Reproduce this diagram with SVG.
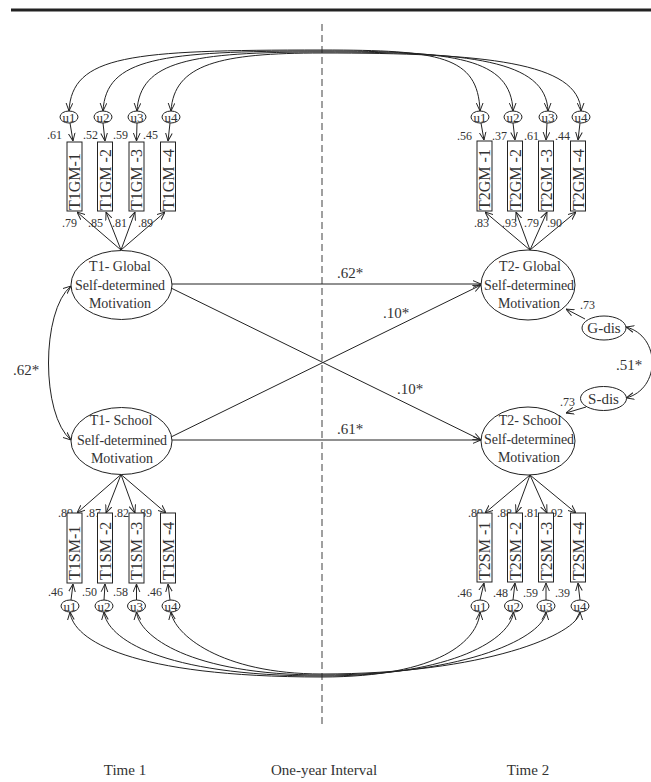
<svg xmlns="http://www.w3.org/2000/svg" width="651" height="782" viewBox="0 0 651 782">
<style>
text{font-family:"Liberation Serif","Times New Roman",serif;fill:#333}
.lat{font-size:14px;text-anchor:middle}
.num{font-size:12px}
.coef{font-size:15px}
.ul{font-size:13px;text-anchor:middle}
.bx{font-size:16px}
.ft{font-size:15px;text-anchor:middle}
.sh{fill:#fff;stroke:#222;stroke-width:1}
.cn path,.cn line{fill:none;stroke:#222;stroke-width:1}
</style>
<defs>
<marker id="ah" viewBox="0 0 10 10" refX="10" refY="5" markerWidth="8" markerHeight="8" markerUnits="userSpaceOnUse" orient="auto-start-reverse">
<path d="M0,0.8 L10,5 L0,9.2" fill="none" stroke="#222" stroke-width="1.2"/>
</marker>
</defs>
<rect x="11" y="8.5" width="640" height="3" fill="#222"/>
<line x1="322" y1="24" x2="322" y2="728" stroke="#808080" stroke-width="1.5" stroke-dasharray="7,4"/>

<g class="cn" id="connectors">
<!-- top residual covariances -->
<path d="M69,111 C72,55 130,50 322,50 C440,50 478,56 480,111" marker-start="url(#ah)" marker-end="url(#ah)"/>
<path d="M103,111 C106,58 160,51 322,51 C455,51 511,58 513,111" marker-start="url(#ah)" marker-end="url(#ah)"/>
<path d="M137,111 C140,61 190,52 322,52 C470,52 546,60 548,111" marker-start="url(#ah)" marker-end="url(#ah)"/>
<path d="M171,111 C174,64 220,53 322,53 C485,53 579,62 581,111" marker-start="url(#ah)" marker-end="url(#ah)"/>
<!-- bottom residual covariances -->
<path d="M70,612 C73,640 130,677 322,677 C440,677 478,640 480,612" marker-start="url(#ah)" marker-end="url(#ah)"/>
<path d="M104,612 C107,638 160,676 322,676 C455,676 511,638 513.5,612" marker-start="url(#ah)" marker-end="url(#ah)"/>
<path d="M136.5,612 C139,636 190,675 322,675 C470,675 544,636 546,612" marker-start="url(#ah)" marker-end="url(#ah)"/>
<path d="M171,612 C174,634 220,674 322,674 C485,674 578,634 580,612" marker-start="url(#ah)" marker-end="url(#ah)"/>
<!-- residual to indicator -->
<path d="M70,123 L73,141" marker-end="url(#ah)"/>
<path d="M103,123 L105,141" marker-end="url(#ah)"/>
<path d="M137,123 L136.5,141" marker-end="url(#ah)"/>
<path d="M170,123 L168,141" marker-end="url(#ah)"/>
<path d="M481,123 L484,140" marker-end="url(#ah)"/>
<path d="M513,123 L515,140" marker-end="url(#ah)"/>
<path d="M547,123 L546,140" marker-end="url(#ah)"/>
<path d="M580,123 L578,140" marker-end="url(#ah)"/>
<path d="M71,600 L73,584" marker-end="url(#ah)"/>
<path d="M104,600 L105,584" marker-end="url(#ah)"/>
<path d="M136.5,600 L136.5,584" marker-end="url(#ah)"/>
<path d="M170,600 L168,584" marker-end="url(#ah)"/>
<path d="M480,600 L484,583" marker-end="url(#ah)"/>
<path d="M513,600 L515,583" marker-end="url(#ah)"/>
<path d="M546,600 L546,583" marker-end="url(#ah)"/>
<path d="M580,600 L578,583" marker-end="url(#ah)"/>
<!-- loadings -->
<path d="M121,250 L77,212" marker-end="url(#ah)"/>
<path d="M121,250 L106,212" marker-end="url(#ah)"/>
<path d="M121,250 L135,212" marker-end="url(#ah)"/>
<path d="M121,250 L165,212" marker-end="url(#ah)"/>
<path d="M530,250 L485,212" marker-end="url(#ah)"/>
<path d="M530,250 L516,212" marker-end="url(#ah)"/>
<path d="M530,250 L547,212" marker-end="url(#ah)"/>
<path d="M530,250 L576,212" marker-end="url(#ah)"/>
<path d="M121,474.5 L77,513" marker-end="url(#ah)"/>
<path d="M121,474.5 L106,513" marker-end="url(#ah)"/>
<path d="M121,474.5 L135,513" marker-end="url(#ah)"/>
<path d="M121,474.5 L166,513" marker-end="url(#ah)"/>
<path d="M530,475 L485,513" marker-end="url(#ah)"/>
<path d="M530,475 L516,513" marker-end="url(#ah)"/>
<path d="M530,475 L547,513" marker-end="url(#ah)"/>
<path d="M530,475 L576,513" marker-end="url(#ah)"/>
<!-- structural paths -->
<path d="M172,284 L481,284" marker-end="url(#ah)"/>
<path d="M172,440 L481,440" marker-end="url(#ah)"/>
<path d="M171,288 L481,440" marker-end="url(#ah)"/>
<path d="M171,437 L481,285" marker-end="url(#ah)"/>
<!-- T1 correlation -->
<path d="M71,286 C41,311 41,415 71,440" marker-start="url(#ah)" marker-end="url(#ah)"/>
<!-- disturbances -->
<path d="M585,319 L566,309" marker-end="url(#ah)"/>
<path d="M586,407 L566,413" marker-end="url(#ah)"/>
<path d="M626,327 C661,336 661,389 626,398" marker-start="url(#ah)" marker-end="url(#ah)"/>
</g>

<g id="labels">
<text class="coef" x="337" y="278">.62*</text>
<text class="coef" x="383" y="318">.10*</text>
<text class="coef" x="397" y="394">.10*</text>
<text class="coef" x="337" y="434">.61*</text>
<text class="coef" x="13" y="375">.62*</text>
<text class="coef" x="616" y="370">.51*</text>
<text class="num" x="580" y="309">.73</text>
<text class="num" x="560" y="406">.73</text>
<text class="num" x="47" y="139">.61</text>
<text class="num" x="83" y="139">.52</text>
<text class="num" x="113" y="139">.59</text>
<text class="num" x="143" y="139">.45</text>
<text class="num" x="62" y="227">.79</text>
<text class="num" x="88" y="227">.85</text>
<text class="num" x="112" y="227">.81</text>
<text class="num" x="138" y="227">.89</text>
<text class="num" x="457" y="140">.56</text>
<text class="num" x="492" y="140">.37</text>
<text class="num" x="524" y="140">.61</text>
<text class="num" x="555" y="140">.44</text>
<text class="num" x="474" y="227">.83</text>
<text class="num" x="502" y="227">.93</text>
<text class="num" x="524" y="227">.79</text>
<text class="num" x="547" y="227">.90</text>
<text class="num" x="58" y="517">.89</text>
<text class="num" x="86" y="517">.87</text>
<text class="num" x="114" y="517">.82</text>
<text class="num" x="137" y="517">.89</text>
<text class="num" x="48" y="596">.46</text>
<text class="num" x="82" y="596">.50</text>
<text class="num" x="113" y="596">.58</text>
<text class="num" x="147" y="596">.46</text>
<text class="num" x="468" y="517">.89</text>
<text class="num" x="497" y="517">.88</text>
<text class="num" x="524" y="517">.81</text>
<text class="num" x="548" y="517">.92</text>
<text class="num" x="457" y="597">.46</text>
<text class="num" x="493" y="597">.48</text>
<text class="num" x="523" y="597">.59</text>
<text class="num" x="555" y="597">.39</text>
</g>

<g id="T1G"><ellipse class="sh" cx="121.5" cy="285" rx="50.5" ry="34.5"/>
<text class="lat" x="120" y="271">T1- Global</text><text class="lat" x="120" y="289.5">Self-determined</text><text class="lat" x="120" y="307.5">Motivation</text></g>
<g id="T1S"><ellipse class="sh" cx="121.5" cy="441" rx="50.5" ry="33.5"/>
<text class="lat" x="121" y="425">T1- School</text><text class="lat" x="122" y="444.5">Self-determined</text><text class="lat" x="122" y="462.5">Motivation</text></g>
<g id="T2G"><ellipse class="sh" cx="528" cy="285" rx="47" ry="35"/>
<text class="lat" x="530" y="271">T2- Global</text><text class="lat" x="529" y="289.5">Self-determined</text><text class="lat" x="529" y="307.5">Motivation</text></g>
<g id="T2S"><ellipse class="sh" cx="528" cy="441" rx="47" ry="34"/>
<text class="lat" x="530" y="425">T2- School</text><text class="lat" x="529" y="444">Self-determined</text><text class="lat" x="529" y="462">Motivation</text></g>
<g id="Gdis"><ellipse class="sh" cx="604" cy="328" rx="22" ry="12"/><text class="coef" x="604" y="333" text-anchor="middle">G-dis</text></g>
<g id="Sdis"><ellipse class="sh" cx="603.5" cy="398.5" rx="23" ry="12"/><text class="coef" x="603.5" y="403.5" text-anchor="middle">S-dis</text></g>

<g id="T1GM-1"><rect class="sh" x="67" y="142" width="15" height="69"/><text class="bx" transform="translate(80,210) rotate(-90)">T1GM-1</text></g>
<g id="T1GM-2"><rect class="sh" x="97.5" y="142" width="15" height="69"/><text class="bx" transform="translate(110.5,210) rotate(-90)">T1GM -2</text></g>
<g id="T1GM-3"><rect class="sh" x="129" y="142" width="15" height="69"/><text class="bx" transform="translate(142,210) rotate(-90)">T1GM -3</text></g>
<g id="T1GM-4"><rect class="sh" x="160.5" y="142" width="15" height="69"/><text class="bx" transform="translate(173.5,210) rotate(-90)">T1GM -4</text></g>
<g id="T2GM-1"><rect class="sh" x="477" y="141" width="15" height="70"/><text class="bx" transform="translate(490,210) rotate(-90)">T2GM -1</text></g>
<g id="T2GM-2"><rect class="sh" x="507.5" y="141" width="15" height="70"/><text class="bx" transform="translate(520.5,210) rotate(-90)">T2GM -2</text></g>
<g id="T2GM-3"><rect class="sh" x="538.5" y="141" width="15" height="70"/><text class="bx" transform="translate(551.5,210) rotate(-90)">T2GM -3</text></g>
<g id="T2GM-4"><rect class="sh" x="570.5" y="141" width="15" height="70"/><text class="bx" transform="translate(583.5,210) rotate(-90)">T2GM -4</text></g>
<g id="T1SM-1"><rect class="sh" x="67" y="513" width="15" height="70"/><text class="bx" transform="translate(80,580) rotate(-90)">T1SM-1</text></g>
<g id="T1SM-2"><rect class="sh" x="97.5" y="513" width="15" height="70"/><text class="bx" transform="translate(110.5,580) rotate(-90)">T1SM -2</text></g>
<g id="T1SM-3"><rect class="sh" x="129" y="513" width="15" height="70"/><text class="bx" transform="translate(142,580) rotate(-90)">T1SM -3</text></g>
<g id="T1SM-4"><rect class="sh" x="160.5" y="513" width="15" height="70"/><text class="bx" transform="translate(173.5,580) rotate(-90)">T1SM -4</text></g>
<g id="T2SM-1"><rect class="sh" x="477" y="513" width="15" height="69"/><text class="bx" transform="translate(490,580) rotate(-90)">T2SM -1</text></g>
<g id="T2SM-2"><rect class="sh" x="507.5" y="513" width="15" height="69"/><text class="bx" transform="translate(520.5,580) rotate(-90)">T2SM -2</text></g>
<g id="T2SM-3"><rect class="sh" x="538.5" y="513" width="15" height="69"/><text class="bx" transform="translate(551.5,580) rotate(-90)">T2SM -3</text></g>
<g id="T2SM-4"><rect class="sh" x="570.5" y="513" width="15" height="69"/><text class="bx" transform="translate(583.5,580) rotate(-90)">T2SM -4</text></g>

<g id="T1GM-u1"><ellipse class="sh" cx="69" cy="117" rx="9" ry="6"/><text class="ul" x="69" y="121.5">u1</text></g>
<g id="T1GM-u2"><ellipse class="sh" cx="103" cy="117" rx="9" ry="6"/><text class="ul" x="103" y="121.5">u2</text></g>
<g id="T1GM-u3"><ellipse class="sh" cx="137" cy="117" rx="9" ry="6"/><text class="ul" x="137" y="121.5">u3</text></g>
<g id="T1GM-u4"><ellipse class="sh" cx="171" cy="117" rx="9" ry="6"/><text class="ul" x="171" y="121.5">u4</text></g>
<g id="T2GM-u1"><ellipse class="sh" cx="480" cy="117" rx="9" ry="6"/><text class="ul" x="480" y="121.5">u1</text></g>
<g id="T2GM-u2"><ellipse class="sh" cx="513" cy="117" rx="9" ry="6"/><text class="ul" x="513" y="121.5">u2</text></g>
<g id="T2GM-u3"><ellipse class="sh" cx="548" cy="117" rx="9" ry="6"/><text class="ul" x="548" y="121.5">u3</text></g>
<g id="T2GM-u4"><ellipse class="sh" cx="581" cy="117" rx="9" ry="6"/><text class="ul" x="581" y="121.5">u4</text></g>
<g id="T1SM-u1"><ellipse class="sh" cx="70" cy="606" rx="9" ry="6"/><text class="ul" x="70" y="610.5">u1</text></g>
<g id="T1SM-u2"><ellipse class="sh" cx="104" cy="606" rx="9" ry="6"/><text class="ul" x="104" y="610.5">u2</text></g>
<g id="T1SM-u3"><ellipse class="sh" cx="136.5" cy="606" rx="9" ry="6"/><text class="ul" x="136.5" y="610.5">u3</text></g>
<g id="T1SM-u4"><ellipse class="sh" cx="171" cy="606" rx="9" ry="6"/><text class="ul" x="171" y="610.5">u4</text></g>
<g id="T2SM-u1"><ellipse class="sh" cx="480" cy="606" rx="9" ry="6"/><text class="ul" x="480" y="610.5">u1</text></g>
<g id="T2SM-u2"><ellipse class="sh" cx="513.5" cy="606" rx="9" ry="6"/><text class="ul" x="513.5" y="610.5">u2</text></g>
<g id="T2SM-u3"><ellipse class="sh" cx="546" cy="606" rx="9" ry="6"/><text class="ul" x="546" y="610.5">u3</text></g>
<g id="T2SM-u4"><ellipse class="sh" cx="580" cy="606" rx="9" ry="6"/><text class="ul" x="580" y="610.5">u4</text></g>

<g id="footer">
<text class="ft" x="125" y="775">Time 1</text>
<text class="ft" x="324" y="775">One-year Interval</text>
<text class="ft" x="528" y="775">Time 2</text>
</g>
</svg>
